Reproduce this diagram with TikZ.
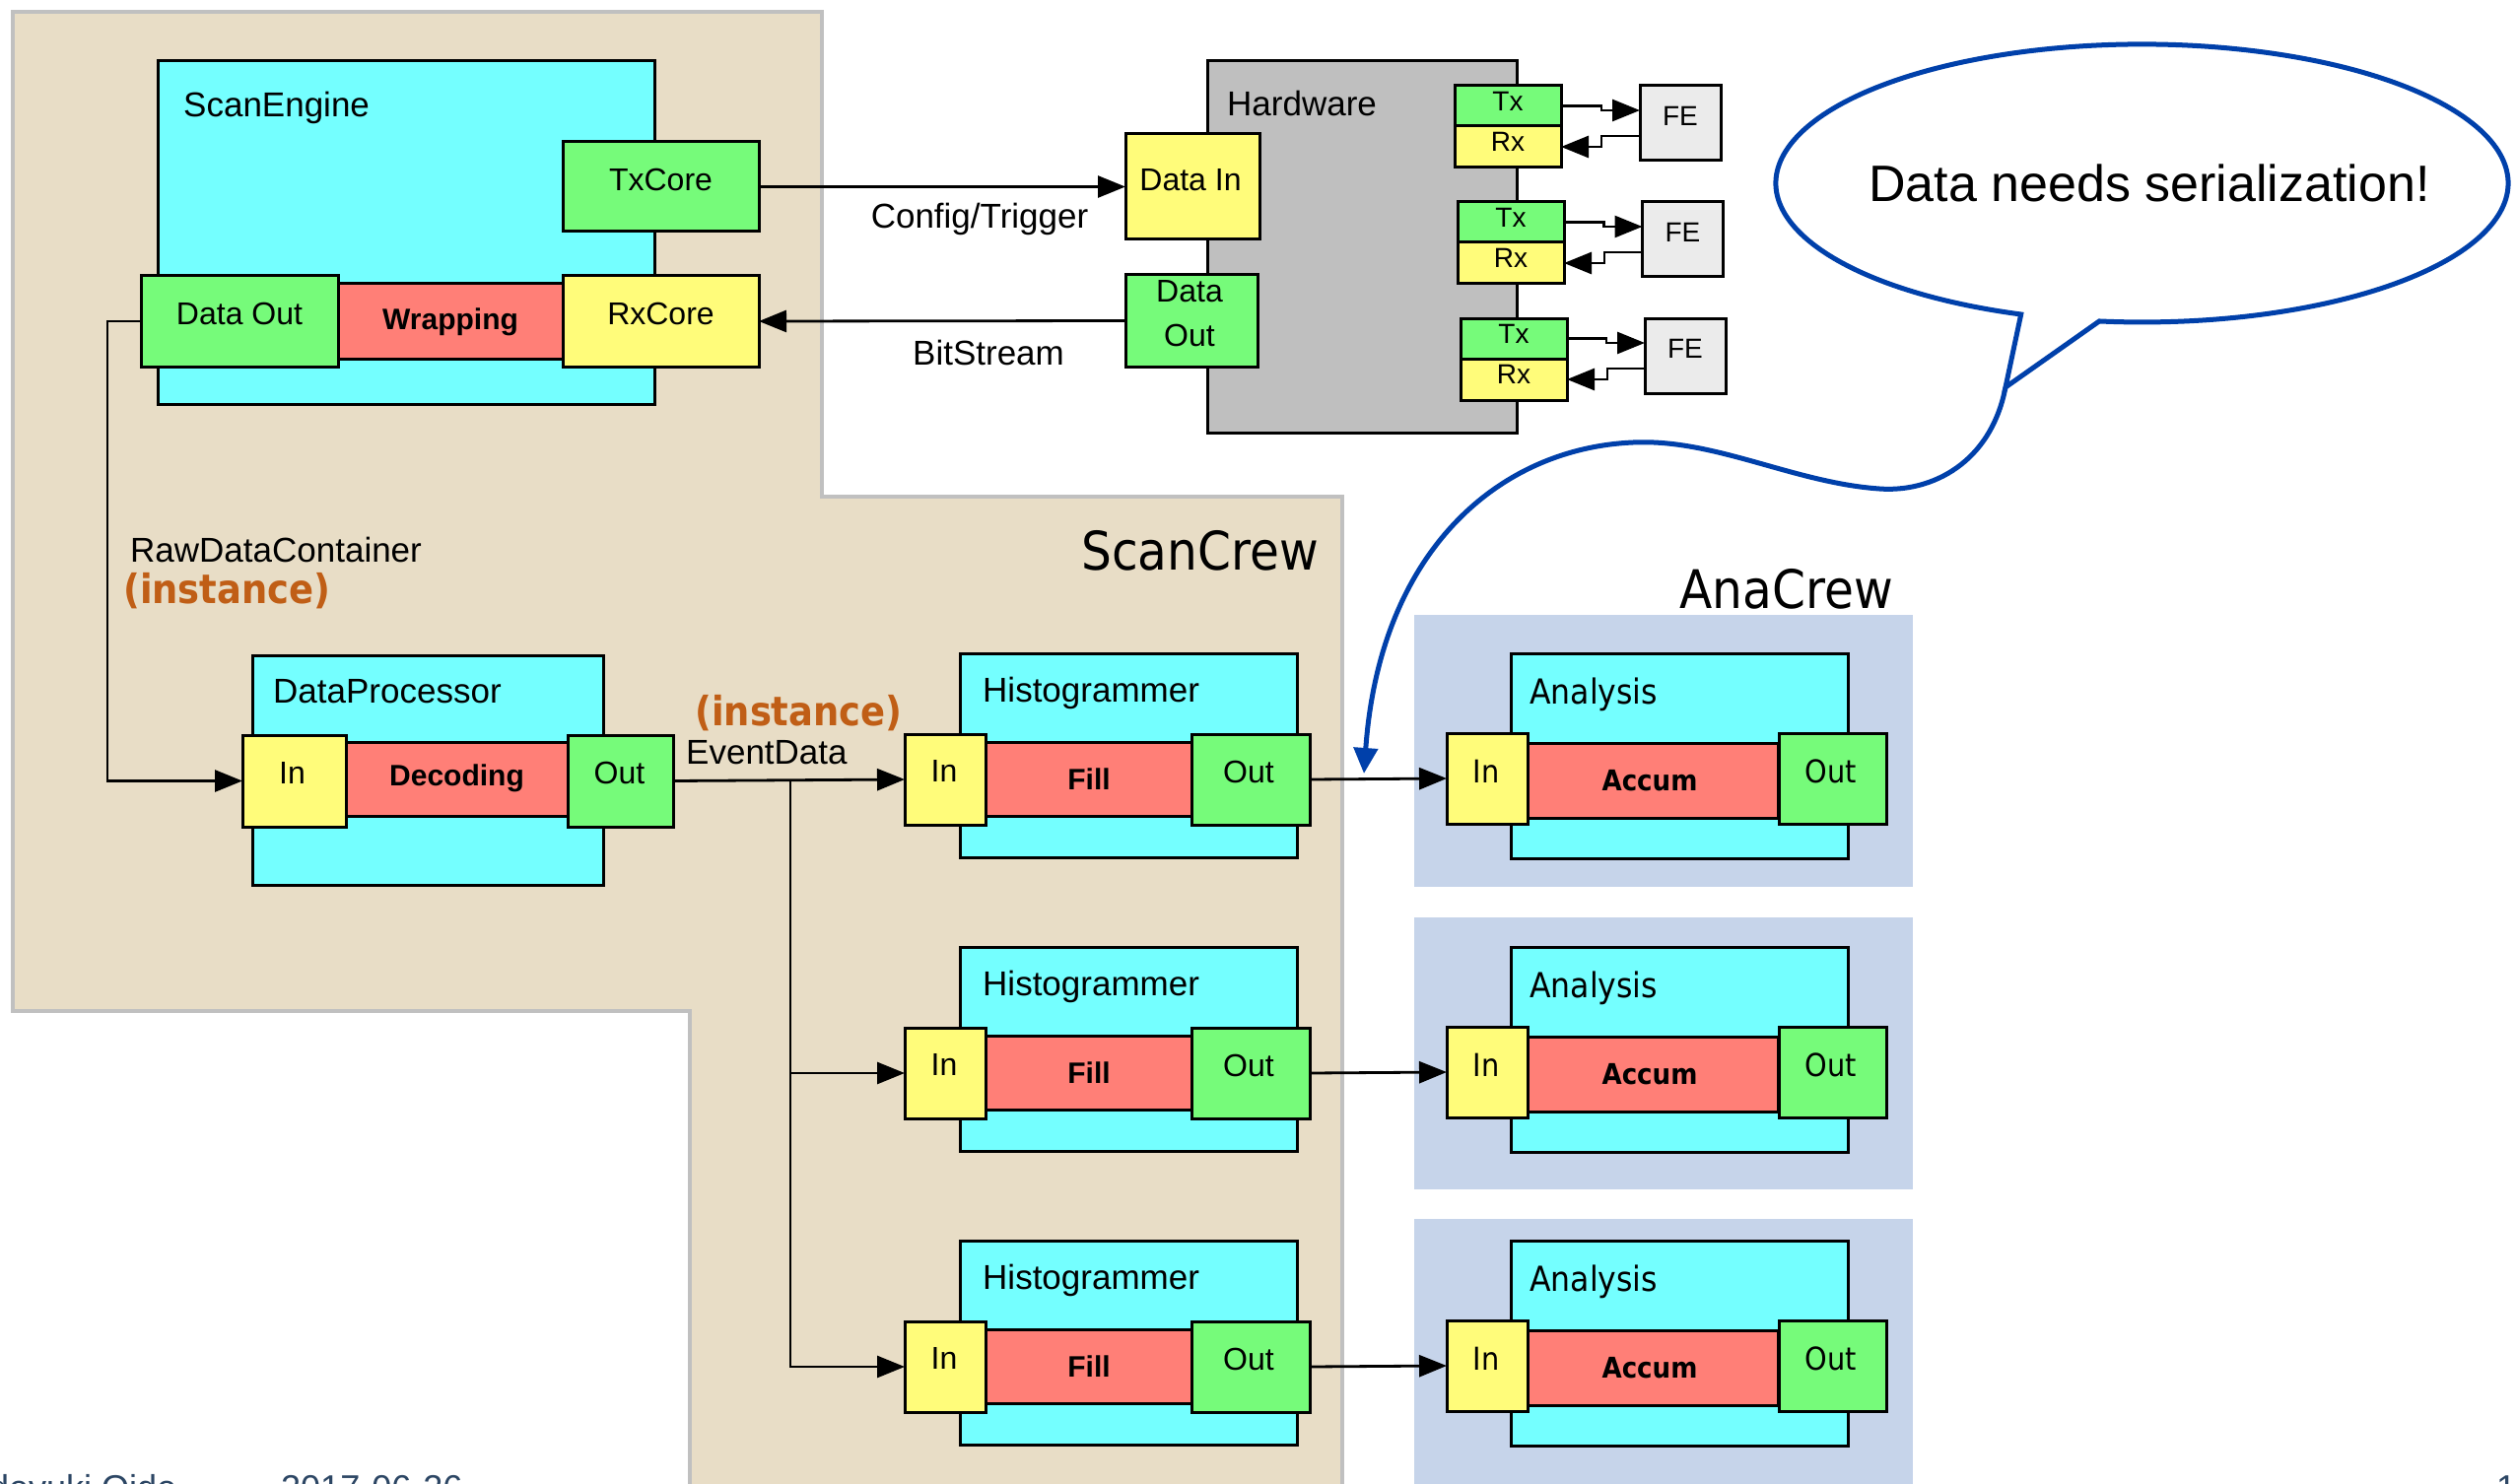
\documentclass[tikz,border=0pt]{standalone}
\usepackage{fontspec}
\setmainfont{Liberation Sans}
\newfontfamily\lucida[FakeStretch=0.9]{DejaVu Sans}
\usetikzlibrary{arrows.meta,calc}
\definecolor{cyanC}{RGB}{116,255,255}
\definecolor{greenC}{RGB}{118,251,122}
\definecolor{yellowC}{RGB}{255,252,122}
\definecolor{redC}{RGB}{255,127,119}
\definecolor{hwC}{RGB}{191,191,191}
\definecolor{feC}{RGB}{235,235,235}
\definecolor{tanC}{RGB}{232,221,198}
\definecolor{tanB}{RGB}{192,192,192}
\definecolor{anaC}{RGB}{198,212,234}
\definecolor{instC}{RGB}{192,94,22}
\definecolor{bubC}{RGB}{0,64,170}
\definecolor{footC}{RGB}{44,70,100}
\newcommand\fLab{\fontsize{35}{40}\selectfont}
\newcommand\fPort{\fontsize{32}{45}\selectfont}
\newcommand\fBold{\bfseries\fontsize{30}{36}\selectfont}
\newcommand\fSmall{\fontsize{28}{32}\selectfont}
\newcommand\fCrew{\lucida\fontsize{54}{60}\selectfont}
\newcommand\fInst{\lucida\bfseries\fontsize{41}{48}\selectfont}
\newcommand\fAna{\lucida\fontsize{35}{40}\selectfont}
\newcommand\fAnaPort{\lucida\fontsize{32}{40}\selectfont}
\newcommand\fAccum{\lucida\bfseries\fontsize{29}{34}\selectfont}
\newcommand\fBubble{\fontsize{52}{60}\selectfont}
\newcommand\fFoot{\fontsize{36}{40}\selectfont}
\newcommand\rectnode[6]{%
  \pgfmathsetmacro\rw{(#5)-(#3)}\pgfmathsetmacro\rh{(#6)-(#4)}%
  \node[#1, minimum width=\rw pt, minimum height=\rh pt] (#2) at ({((#3)+(#5))/2},{((#4)+(#6))/2}) {};}
\begin{document}
\begin{tikzpicture}[x=1pt,y=-1pt,
  bx/.style={draw=black, line width=3pt, inner sep=0pt, outer sep=0pt},
  cy/.style={bx, fill=cyanC},
  gr/.style={bx, fill=greenC},
  ye/.style={bx, fill=yellowC},
  rd/.style={bx, fill=redC},
  hw/.style={bx, fill=hwC},
  fe/.style={bx, fill=feC},
  anabg/.style={fill=anaC, inner sep=0pt, outer sep=0pt},
  lbl/.style={inner sep=0pt, font=\fLab},
  plbl/.style={inner sep=0pt, font=\fPort},
  blbl/.style={inner sep=0pt, font=\fBold},
  slbl/.style={inner sep=0pt, font=\fSmall},
  crew/.style={inner sep=0pt, font=\fCrew},
  inst/.style={inner sep=0pt, font=\fInst, text=instC},
  conn/.style={draw=black, line width=2.8pt, -{Triangle[length=28pt,width=22pt]}},
  bubble/.style={draw=bubC, line width=5pt, line join=miter},
]
\useasboundingbox (0,0) rectangle (2553,1506);
\clip (0,0) rectangle (2553,1506);
\fill[white] (0,0) rectangle (2553,1506);

% ScanCrew region
\draw[fill=tanC, draw=tanB, line width=4pt] (13,12) -- (834,12) -- (834,504) -- (1362,504) -- (1362,1530) -- (700,1530) -- (700,1026) -- (13,1026) -- cycle;
\node[crew, anchor=base east] (scancrew) at (1338,578) {ScanCrew};

% AnaCrew backgrounds
\foreach \k in {0,1,2}{
  \pgfmathsetmacro\dy{306.5*\k}
  \rectnode{anabg}{anabg\k}{1435}{624+\dy}{1941}{900+\dy}
}
\node[crew, anchor=base east] (anacrew) at (1921,617) {AnaCrew};

% ScanEngine
\rectnode{cy}{se}{160}{62}{664}{410}
\node[lbl, anchor=base west] (set) at (186,119) {ScanEngine};
\rectnode{gr}{txcore}{571}{144}{770}{235}
\node[plbl] (txcoret) at ($(txcore)+(0,-7.5)$) {TxCore};
\rectnode{rd}{wrap}{343}{288}{571}{364}
\node[blbl] (wrapt) at ($(wrap)+(0,1)$) {Wrapping};
\rectnode{gr}{sedo}{143}{280}{343}{372}
\node[plbl] (sedot) at ($(sedo)+(0,-8)$) {Data Out};
\rectnode{ye}{rxcore}{571}{280}{770}{372}
\node[plbl] (rxcoret) at ($(rxcore)+(0,-8)$) {RxCore};

% Hardware
\rectnode{hw}{hwbox}{1225}{62}{1539}{439}
\node[lbl, anchor=base west] (hwt) at (1245,118) {Hardware};
\rectnode{ye}{datain}{1142}{136}{1278}{243}
\node[plbl] (dataint) at (1208,183) {Data In};
\rectnode{gr}{hwdo}{1142}{279}{1276}{372}
\node[plbl, align=center] (hwdot) at (1207,318.5) {Data\\Out};
\foreach \k in {0,1,2}{
  \pgfmathsetmacro\dx{3*\k}
  \pgfmathsetmacro\dy{118*\k}
  \pgfmathsetmacro\fx{2.5*\k}
  \rectnode{gr}{tx\k}{1476+\dx}{87+\dy}{1584+\dx}{128+\dy}
  \rectnode{ye}{rx\k}{1476+\dx}{128+\dy}{1584+\dx}{170+\dy}
  \node[slbl] (txt\k) at ($(tx\k)+(0,-4.5)$) {Tx};
  \node[slbl] (rxt\k) at ($(rx\k)+(0,-5)$) {Rx};
  \rectnode{fe}{fe\k}{1664+\fx}{87+\dy}{1746+\fx}{163+\dy}
  \node[slbl] (fet\k) at ($(fe\k)+(0,-7.5)$) {FE};
  \draw[conn] (tx\k.east) -| ($(fe\k.west)+(-39,-13)$) -- ($(fe\k.west)+(0,-13)$);
  \draw[conn] ($(fe\k.west)+(0,13)$) -| ($(rx\k.east)+(41,0)$) -- (rx\k.east);
}

% ScanEngine <-> Hardware
\draw[conn] (txcore.east) -- (datain.west);
\draw[conn] (hwdo.west) -- (rxcore.east);
\node[lbl, anchor=base] (cfg) at (994,232) {Config/Trigger};
\node[lbl, anchor=base] (bits) at (1003,370) {BitStream};

% DataProcessor
\rectnode{cy}{dp}{256}{665}{612}{898}
\node[lbl, anchor=base west] (dpt) at (277,713) {DataProcessor};
\rectnode{rd}{dec}{351}{753}{576}{828}
\node[blbl] (dect) at ($(dec)+(0,-1)$) {Decoding};
\rectnode{ye}{dpin}{246}{746}{351}{839}
\node[plbl] (dpint) at ($(dpin)+(-2,-8)$) {In};
\rectnode{gr}{dpout}{576}{746}{683}{839}
\node[plbl] (dpoutt) at ($(dpout)+(-1,-8)$) {Out};

\draw[conn] (sedo.west) -- ++(-34,0) |- (dpin.west);
\node[lbl, anchor=base west] (rdc) at (132,570) {RawDataContainer};
\node[inst, anchor=base west] (inst1) at (125,612) {(instance)};

% Histogrammers
\foreach \k in {0,1,2}{
  \pgfmathsetmacro\dy{298*\k}
  \rectnode{cy}{hist\k}{974}{663+\dy}{1316}{870+\dy}
  \node[lbl, anchor=base west] (histt\k) at (997,712+\dy) {Histogrammer};
  \rectnode{rd}{fill\k}{1000}{753+\dy}{1210}{828+\dy}
  \node[blbl] (fillt\k) at ($(fill\k)+(0,0)$) {Fill};
  \rectnode{ye}{hin\k}{918}{745+\dy}{1000}{837+\dy}
  \node[plbl] (hint\k) at ($(hin\k)+(-1,-9)$) {In};
  \rectnode{gr}{hout\k}{1209}{745+\dy}{1329}{837+\dy}
  \node[plbl] (houtt\k) at ($(hout\k)+(-2,-8)$) {Out};
}

% Analyses
\foreach \k in {0,1,2}{
  \pgfmathsetmacro\dy{298*\k}
  \rectnode{cy}{ana\k}{1533}{663+\dy}{1875}{871+\dy}
  \node[inner sep=0pt, font=\fAna, anchor=base west] (anat\k) at (1552,714+\dy) {Analysis};
  \rectnode{rd}{acc\k}{1550}{754+\dy}{1804}{830+\dy}
  \node[inner sep=0pt, font=\fAccum] (acct\k) at ($(acc\k)+(-3,0)$) {Accum};
  \rectnode{ye}{ain\k}{1468}{744+\dy}{1550}{836+\dy}
  \node[inner sep=0pt, font=\fAnaPort] (aint\k) at ($(ain\k)+(-1,-7)$) {In};
  \rectnode{gr}{aout\k}{1805}{744+\dy}{1914}{836+\dy}
  \node[inner sep=0pt, font=\fAnaPort] (aoutt\k) at ($(aout\k)+(-2,-7)$) {Out};
  \draw[conn] (hout\k.east) -- (ain\k.west);
}

% EventData distribution
\draw[conn] (dpout.east) -- (hin0.west);
\coordinate (j) at (802,792);
\draw[conn] (j) |- (hin1.west);
\draw[conn] (j) |- (hin2.west);
\node[inst, anchor=base west] (inst2) at (705,736) {(instance)};
\node[lbl, anchor=base west] (evd) at (696,775) {EventData};

% Speech bubble
\draw[bubble, fill=white] (2050.7,319) arc[start angle=109.3, end angle=456.7, x radius=371.5, y radius=141] -- (2035,393) -- cycle;
\node[inner sep=0pt, font=\fBubble, anchor=base] (bubt) at (2181,205) {Data needs serialization!};
\coordinate (tip) at (2035,393);
\draw[bubC, line width=5pt, -{Triangle[length=26pt,width=24pt]}] (tip) .. controls (2020,470) and (1960,500) .. (1907,496) .. controls (1820,490) and (1740,445) .. (1657,449) .. controls (1520,455) and (1400,560) .. (1384,785);

% Footer (cut by the page edge)
\node[inner sep=0pt, font=\fFoot, text=footC, anchor=base west] (f1) at (-45,1522) {Hideyuki Oide};
\node[inner sep=0pt, font=\fFoot, text=footC, anchor=base west] (f2) at (285,1522) {2017-06-26};
\node[inner sep=0pt, font=\fFoot, text=footC, anchor=base west] (f3) at (2533,1522) {1};
\end{tikzpicture}
\end{document}
